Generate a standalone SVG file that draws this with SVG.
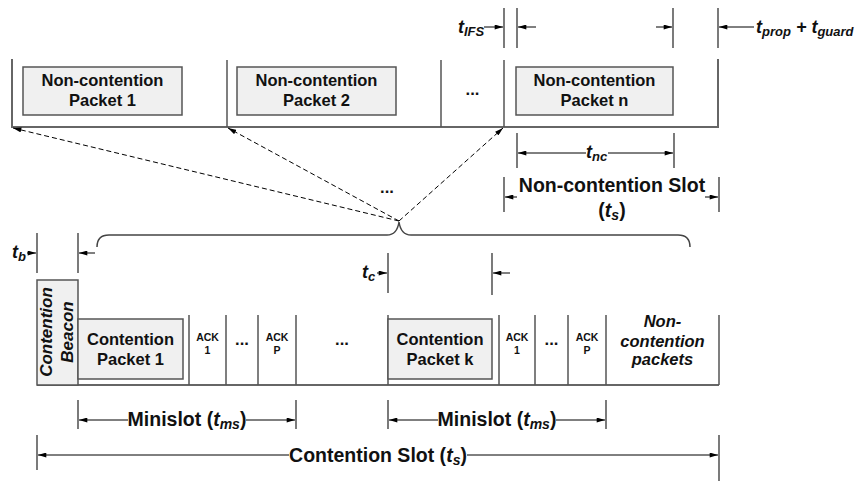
<svg xmlns="http://www.w3.org/2000/svg" width="860" height="481" viewBox="0 0 860 481">
  <defs>
    <marker id="ah" viewBox="0 0 10 6" refX="10" refY="3" markerWidth="9" markerHeight="5" markerUnits="userSpaceOnUse" orient="auto-start-reverse">
      <path d="M0,0 L10,3 L0,6 z" fill="#000"/>
    </marker>
    <style>
      text { font-family: "Liberation Sans", Arial, sans-serif; font-weight: bold; fill: #111; }
      .c { text-anchor: middle; }
      .pk { font-size: 16.5px; }
      .big { font-size: 19.5px; }
      .it { font-style: italic; }
      .t { font-size: 18px; font-style: italic; }
      .sub { font-size: 13px; font-style: italic; }
      .ack { font-size: 10.5px; }
      .box { fill: #f0f0f0; stroke: #555; stroke-width: 1.5; }
      .frame { fill: none; stroke: #666; stroke-width: 2; }
      .sep { stroke: #555; stroke-width: 1.5; }
      .dim { stroke: #222; stroke-width: 1.2; }
      .arr { stroke: #000; stroke-width: 1; fill: none; }
      .dash { stroke: #000; stroke-width: 1; stroke-dasharray: 5 3; fill: none; }
      .brace { stroke: #444; stroke-width: 1.5; fill: none; }
    </style>
  </defs>

  <!-- Non-contention slot frame -->
  <g id="nc-frame">
    <path class="frame" d="M12,59 V127 H718 V59"/>
    <line class="sep" x1="227" y1="60" x2="227" y2="127"/>
    <line class="sep" x1="441" y1="60" x2="441" y2="127"/>
    <line class="sep" x1="504" y1="60" x2="504" y2="127"/>
  </g>
  <g id="nc-packet-1">
    <rect class="box" x="23" y="67" width="159" height="48"/>
    <text class="pk c" x="102.5" y="86">Non-contention</text>
    <text class="pk c" x="102.5" y="106">Packet 1</text>
  </g>
  <g id="nc-packet-2">
    <rect class="box" x="237" y="67" width="159" height="48"/>
    <text class="pk c" x="316.5" y="86">Non-contention</text>
    <text class="pk c" x="316.5" y="106">Packet 2</text>
  </g>
  <g id="nc-dots">
    <text class="pk c" x="472.5" y="95">...</text>
  </g>
  <g id="nc-packet-n">
    <rect class="box" x="516" y="67" width="157" height="48"/>
    <text class="pk c" x="594.5" y="86">Non-contention</text>
    <text class="pk c" x="594.5" y="106">Packet n</text>
  </g>

  <!-- Contention slot frame -->
  <g id="c-frame">
    <line class="frame" x1="37" y1="385" x2="719" y2="385"/>
    <line class="sep" x1="189" y1="315" x2="189" y2="385"/>
    <line class="sep" x1="226" y1="315" x2="226" y2="385"/>
    <line class="sep" x1="258" y1="315" x2="258" y2="385"/>
    <line class="sep" x1="296" y1="315" x2="296" y2="385"/>
    <line class="sep" x1="388" y1="315" x2="388" y2="385"/>
    <line class="sep" x1="499" y1="315" x2="499" y2="385"/>
    <line class="sep" x1="535" y1="315" x2="535" y2="385"/>
    <line class="sep" x1="568" y1="315" x2="568" y2="385"/>
    <line class="sep" x1="606" y1="315" x2="606" y2="385"/>
    <line class="sep" x1="719" y1="315" x2="719" y2="385"/>
  </g>
  <g id="beacon">
    <rect class="box" x="37" y="280" width="41" height="105"/>
    <text class="it c" font-size="17" transform="translate(52,332) rotate(-90)">Contention</text>
    <text class="it c" font-size="17" transform="translate(73,332) rotate(-90)">Beacon</text>
  </g>
  <g id="c-packet-1">
    <rect class="box" x="78" y="319" width="105" height="60"/>
    <text class="pk c" x="130.5" y="345">Contention</text>
    <text class="pk c" x="130.5" y="365">Packet 1</text>
  </g>
  <g id="ack-1a">
    <text class="ack c" x="207.5" y="341">ACK</text>
    <text class="ack c" x="207.5" y="354">1</text>
  </g>
  <g id="ack-dots-a"><text class="pk c" x="242" y="345">...</text></g>
  <g id="ack-pa">
    <text class="ack c" x="277" y="341">ACK</text>
    <text class="ack c" x="277" y="354">P</text>
  </g>
  <g id="mid-dots"><text class="pk c" x="342" y="345">...</text></g>
  <g id="c-packet-k">
    <rect class="box" x="388" y="319" width="104" height="60"/>
    <text class="pk c" x="440" y="345">Contention</text>
    <text class="pk c" x="440" y="365">Packet k</text>
  </g>
  <g id="ack-1b">
    <text class="ack c" x="517" y="341">ACK</text>
    <text class="ack c" x="517" y="354">1</text>
  </g>
  <g id="ack-dots-b"><text class="pk c" x="551.5" y="345">...</text></g>
  <g id="ack-pb">
    <text class="ack c" x="587" y="341">ACK</text>
    <text class="ack c" x="587" y="354">P</text>
  </g>
  <g id="nc-packets">
    <text class="pk it c" x="662.5" y="327">Non-</text>
    <text class="pk it c" x="662.5" y="347">contention</text>
    <text class="pk it c" x="662.5" y="365">packets</text>
  </g>

  <!-- Connectors: mapping, brace and dimension lines -->
  <g id="connectors">
    <line class="dash" x1="399" y1="221" x2="13" y2="128" marker-end="url(#ah)"/>
    <line class="dash" x1="399" y1="221" x2="228" y2="128" marker-end="url(#ah)"/>
    <line class="dash" x1="399" y1="221" x2="503" y2="128" marker-end="url(#ah)"/>
    <text class="pk c" x="387" y="193">...</text>
    <path class="brace" d="M97,247 Q97,235 109,235 H387 Q397,235 399,222 Q401,235 411,235 H678 Q690,235 690,247"/>

    <!-- t_IFS -->
    <line class="dim" x1="504" y1="8" x2="504" y2="48"/>
    <line class="dim" x1="517" y1="8" x2="517" y2="48"/>
    <line class="arr" x1="484" y1="27" x2="503" y2="27" marker-end="url(#ah)"/>
    <line class="arr" x1="536" y1="27" x2="518" y2="27" marker-end="url(#ah)"/>
    <text x="458" y="33"><tspan class="t">t</tspan><tspan class="sub" dy="3">IFS</tspan></text>

    <!-- t_prop + t_guard -->
    <line class="dim" x1="673" y1="8" x2="673" y2="48"/>
    <line class="dim" x1="718" y1="8" x2="718" y2="48"/>
    <line class="arr" x1="656" y1="27" x2="672" y2="27" marker-end="url(#ah)"/>
    <line class="arr" x1="754" y1="27" x2="719" y2="27" marker-end="url(#ah)"/>
    <text x="756" y="33"><tspan class="t">t</tspan><tspan class="sub" dy="3">prop</tspan><tspan class="t" dy="-3"> + t</tspan><tspan class="sub" dy="3">guard</tspan></text>

    <!-- t_nc -->
    <line class="dim" x1="517" y1="133" x2="517" y2="168"/>
    <line class="dim" x1="674" y1="133" x2="674" y2="168"/>
    <line class="arr" x1="586" y1="153" x2="518" y2="153" marker-end="url(#ah)"/>
    <line class="arr" x1="608" y1="153" x2="673" y2="153" marker-end="url(#ah)"/>
    <text x="586" y="158"><tspan class="t">t</tspan><tspan class="sub" dy="3">nc</tspan></text>

    <!-- Non-contention slot -->
    <line class="dim" x1="504" y1="177" x2="504" y2="212"/>
    <line class="dim" x1="719" y1="177" x2="719" y2="212"/>
    <line class="arr" x1="517" y1="197" x2="505" y2="197" marker-end="url(#ah)"/>
    <line class="arr" x1="705" y1="197" x2="718" y2="197" marker-end="url(#ah)"/>
    <text class="big c" x="612" y="192">Non-contention Slot</text>
    <text class="big c" x="612" y="217">(<tspan font-style="italic">t</tspan><tspan font-size="14" font-style="italic" dy="3">s</tspan><tspan dy="-3">)</tspan></text>

    <!-- t_b -->
    <line class="dim" x1="37" y1="233" x2="37" y2="273"/>
    <line class="dim" x1="78" y1="233" x2="78" y2="273"/>
    <line class="arr" x1="27" y1="253" x2="36" y2="253" marker-end="url(#ah)"/>
    <line class="arr" x1="95" y1="253" x2="79" y2="253" marker-end="url(#ah)"/>
    <text x="12" y="258"><tspan class="t">t</tspan><tspan class="sub" dy="3">b</tspan></text>

    <!-- t_c -->
    <line class="dim" x1="388" y1="253" x2="388" y2="293"/>
    <line class="dim" x1="492" y1="253" x2="492" y2="295"/>
    <line class="arr" x1="377" y1="273" x2="387" y2="273" marker-end="url(#ah)"/>
    <line class="arr" x1="510" y1="273" x2="493" y2="273" marker-end="url(#ah)"/>
    <text x="362" y="278"><tspan class="t">t</tspan><tspan class="sub" dy="3">c</tspan></text>

    <!-- Minislots -->
    <line class="dim" x1="78" y1="400" x2="78" y2="429"/>
    <line class="dim" x1="296" y1="400" x2="296" y2="429"/>
    <line class="arr" x1="128" y1="420" x2="79" y2="420" marker-end="url(#ah)"/>
    <line class="arr" x1="246" y1="420" x2="295" y2="420" marker-end="url(#ah)"/>
    <text class="big c" x="187" y="426">Minislot (<tspan font-style="italic">t</tspan><tspan font-size="14" font-style="italic" dy="3">ms</tspan><tspan dy="-3">)</tspan></text>

    <line class="dim" x1="388" y1="400" x2="388" y2="429"/>
    <line class="dim" x1="606" y1="400" x2="606" y2="429"/>
    <line class="arr" x1="438" y1="420" x2="389" y2="420" marker-end="url(#ah)"/>
    <line class="arr" x1="556" y1="420" x2="605" y2="420" marker-end="url(#ah)"/>
    <text class="big c" x="497" y="426">Minislot (<tspan font-style="italic">t</tspan><tspan font-size="14" font-style="italic" dy="3">ms</tspan><tspan dy="-3">)</tspan></text>

    <!-- Contention slot -->
    <line class="dim" x1="37" y1="435" x2="37" y2="470"/>
    <line class="dim" x1="719" y1="435" x2="719" y2="481"/>
    <line class="arr" x1="289" y1="455" x2="38" y2="455" marker-end="url(#ah)"/>
    <line class="arr" x1="467" y1="455" x2="718" y2="455" marker-end="url(#ah)"/>
    <text class="big c" x="378" y="462">Contention Slot (<tspan font-style="italic">t</tspan><tspan font-size="14" font-style="italic" dy="3">s</tspan><tspan dy="-3">)</tspan></text>
  </g>
</svg>
